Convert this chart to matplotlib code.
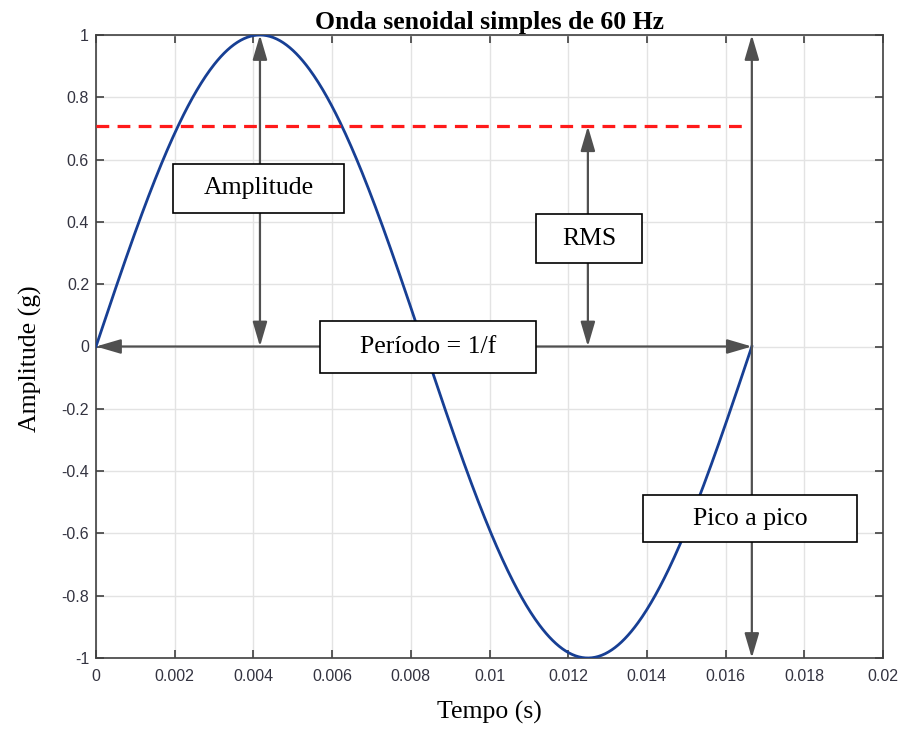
"""Onda senoidal de 60 Hz com anotacoes de amplitude, RMS, periodo e pico a pico."""

import numpy as np
import matplotlib

matplotlib.use("Agg")
import matplotlib.pyplot as plt
from matplotlib.patches import Rectangle

# parametros da onda (do titulo do grafico)
frequency = 60.0
amplitude = 1.0
period = 1.0 / frequency
rms = amplitude / np.sqrt(2)
rms_line_end = 0.01645

x_ticks = [0, 0.002, 0.004, 0.006, 0.008, 0.01, 0.012, 0.014, 0.016, 0.018, 0.02]
x_tick_labels = ["0", "0.002", "0.004", "0.006", "0.008", "0.01",
                 "0.012", "0.014", "0.016", "0.018", "0.02"]
y_ticks = [-1, -0.8, -0.6, -0.4, -0.2, 0, 0.2, 0.4, 0.6, 0.8, 1]
y_tick_labels = ["-1", "-0.8", "-0.6", "-0.4", "-0.2", "0",
                 "0.2", "0.4", "0.6", "0.8", "1"]

box_labels = ["Amplitude", "RMS", "Período = 1/f", "Pico a pico"]
# (x0, x1, y0, y1) de cada caixa, em coordenadas de dados
box_extents = [
    (0.00196, 0.00629, 0.429, 0.586),
    (0.01118, 0.01388, 0.268, 0.425),
    (0.00568, 0.01118, -0.0835, 0.081),
    (0.01391, 0.01934, -0.629, -0.478),
]

t = np.linspace(0, period, 600)
wave = amplitude * np.sin(2 * np.pi * frequency * t)

serif = ["Liberation Serif", "DejaVu Serif"]
sans = ["Liberation Sans", "DejaVu Sans"]

fig = plt.figure(figsize=(9.01, 7.31), dpi=100)
ax = fig.add_axes([96 / 901, 1 - 658 / 731, 787 / 901, 623 / 731])

ax.set_xlim(0, 0.02)
ax.set_ylim(-1, 1)
ax.set_xticks(x_ticks)
ax.set_xticklabels(x_tick_labels, family=sans, fontsize=11.5, color="#333340")
ax.set_yticks(y_ticks)
ax.set_yticklabels(y_tick_labels, family=sans, fontsize=11.5, color="#333340")
ax.tick_params(axis="both", direction="in", length=6, width=1.2,
               top=True, right=True, color="#404040")
ax.tick_params(axis="x", pad=8)
ax.tick_params(axis="y", pad=5)
ax.grid(True, color="#e3e3e3", lw=1)
ax.set_axisbelow(True)
for sp in ax.spines.values():
    sp.set_color("#404040")
    sp.set_linewidth(1.2)

ax.plot(t, wave, color="#173f94", lw=2.0, zorder=3)
ax.plot([0, rms_line_end], [rms, rms], color="#ff1a1a", lw=2.3,
        dashes=(4, 2.6), zorder=3)

arrow_kw = dict(arrowstyle="<|-|>,head_length=0.75,head_width=0.22",
                color="#505050", lw=1.6, shrinkA=0, shrinkB=0,
                mutation_scale=20)
# amplitude
ax.annotate("", xy=(period / 4, amplitude), xytext=(period / 4, 0),
            arrowprops=arrow_kw, zorder=4)
# rms
ax.annotate("", xy=(period * 0.75, rms), xytext=(period * 0.75, 0),
            arrowprops=arrow_kw, zorder=4)
# periodo
ax.annotate("", xy=(0, 0), xytext=(period, 0), arrowprops=arrow_kw, zorder=4)
# pico a pico
ax.annotate("", xy=(period, amplitude), xytext=(period, -amplitude),
            arrowprops=arrow_kw, zorder=4)

for label, (x0, x1, y0, y1) in zip(box_labels, box_extents):
    ax.add_patch(Rectangle((x0, y0), x1 - x0, y1 - y0, facecolor="white",
                           edgecolor="black", lw=1.2, zorder=5))
    ax.text((x0 + x1) / 2, (y0 + y1) / 2, label, ha="center", va="center",
            family=serif, fontsize=18.5, zorder=6)

ax.set_title("Onda senoidal simples de 60 Hz", family=serif, fontsize=18.5,
             fontweight="bold", pad=4)
ax.set_xlabel("Tempo (s)", family=serif, fontsize=18.5, labelpad=12)
ax.set_ylabel("Amplitude (g)", family=serif, fontsize=18.5)
ax.yaxis.set_label_coords(-0.069, 0.48)

fig.savefig("out.png", dpi=100)
